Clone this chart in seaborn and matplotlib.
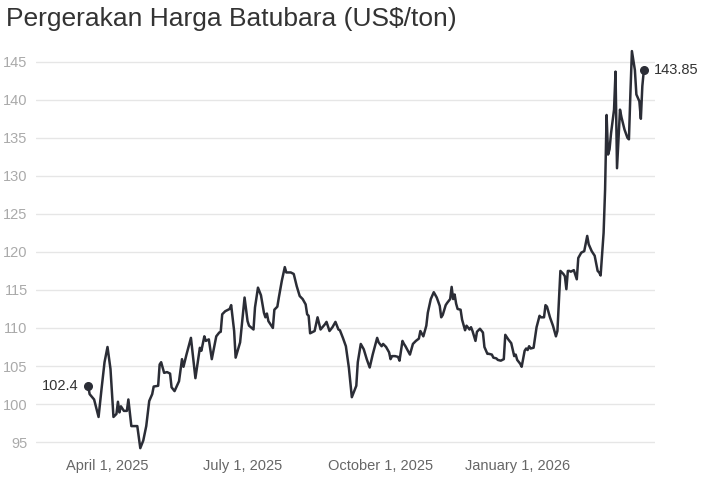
import pandas as pd
import numpy as np
import matplotlib
matplotlib.use("Agg")
import matplotlib.pyplot as plt
import seaborn as sns

# coal price readings (US$/ton)
dates = [
    "2025-03-19", "2025-03-20", "2025-03-23", "2025-03-26", "2025-03-28", "2025-03-30",
    "2025-04-01", "2025-04-03", "2025-04-05", "2025-04-07", "2025-04-08", "2025-04-09",
    "2025-04-10", "2025-04-12", "2025-04-14", "2025-04-15", "2025-04-17", "2025-04-19",
    "2025-04-21", "2025-04-23", "2025-04-25", "2025-04-27", "2025-04-29", "2025-05-01",
    "2025-05-02", "2025-05-05", "2025-05-06", "2025-05-07", "2025-05-09", "2025-05-11",
    "2025-05-13", "2025-05-14", "2025-05-16", "2025-05-19", "2025-05-21", "2025-05-22",
    "2025-05-24", "2025-05-27", "2025-05-30", "2025-06-02", "2025-06-03", "2025-06-05",
    "2025-06-06", "2025-06-08", "2025-06-10", "2025-06-13", "2025-06-15", "2025-06-16",
    "2025-06-17", "2025-06-19", "2025-06-22", "2025-06-23", "2025-06-25", "2025-06-26",
    "2025-06-29", "2025-07-02", "2025-07-04", "2025-07-05", "2025-07-08", "2025-07-09",
    "2025-07-11", "2025-07-13", "2025-07-15", "2025-07-16", "2025-07-17", "2025-07-18",
    "2025-07-21", "2025-07-22", "2025-07-24", "2025-07-25", "2025-07-27", "2025-07-29",
    "2025-07-30", "2025-08-02", "2025-08-04", "2025-08-06", "2025-08-08", "2025-08-10",
    "2025-08-12", "2025-08-13", "2025-08-14", "2025-08-15", "2025-08-18", "2025-08-20",
    "2025-08-22", "2025-08-25", "2025-08-26", "2025-08-28", "2025-08-30", "2025-09-01",
    "2025-09-03", "2025-09-04", "2025-09-06", "2025-09-08", "2025-09-10", "2025-09-12",
    "2025-09-15", "2025-09-16", "2025-09-18", "2025-09-20", "2025-09-22", "2025-09-24",
    "2025-09-26", "2025-09-29", "2025-09-30", "2025-10-02", "2025-10-03", "2025-10-05",
    "2025-10-07", "2025-10-08", "2025-10-09", "2025-10-11", "2025-10-13", "2025-10-14",
    "2025-10-16", "2025-10-17", "2025-10-18", "2025-10-21", "2025-10-23", "2025-10-25",
    "2025-10-27", "2025-10-28", "2025-10-30", "2025-11-01", "2025-11-02", "2025-11-04",
    "2025-11-06", "2025-11-08", "2025-11-10", "2025-11-11", "2025-11-12", "2025-11-14",
    "2025-11-15", "2025-11-17", "2025-11-18", "2025-11-19", "2025-11-20", "2025-11-21",
    "2025-11-22", "2025-11-24", "2025-11-25", "2025-11-27", "2025-11-28", "2025-11-30",
    "2025-12-01", "2025-12-02", "2025-12-04", "2025-12-05", "2025-12-07", "2025-12-09",
    "2025-12-10", "2025-12-12", "2025-12-13", "2025-12-15", "2025-12-16", "2025-12-18",
    "2025-12-19", "2025-12-21", "2025-12-23", "2025-12-24", "2025-12-26", "2025-12-28",
    "2025-12-30", "2025-12-31", "2026-01-01", "2026-01-03", "2026-01-04", "2026-01-06",
    "2026-01-07", "2026-01-08", "2026-01-09", "2026-01-10", "2026-01-12", "2026-01-14",
    "2026-01-16", "2026-01-17", "2026-01-19", "2026-01-20", "2026-01-21", "2026-01-23",
    "2026-01-25", "2026-01-27", "2026-01-28", "2026-01-30", "2026-02-01", "2026-02-02",
    "2026-02-03", "2026-02-04", "2026-02-05", "2026-02-06", "2026-02-08", "2026-02-10",
    "2026-02-11", "2026-02-13", "2026-02-15", "2026-02-17", "2026-02-18", "2026-02-20",
    "2026-02-22", "2026-02-24", "2026-02-25", "2026-02-26", "2026-02-28", "2026-03-01",
    "2026-03-02", "2026-03-03", "2026-03-04", "2026-03-05", "2026-03-07", "2026-03-08",
    "2026-03-09", "2026-03-11", "2026-03-12", "2026-03-14", "2026-03-16", "2026-03-17",
    "2026-03-18", "2026-03-19", "2026-03-21", "2026-03-22", "2026-03-24", "2026-03-25",
    "2026-03-26", "2026-03-27",
]
prices = [
    102.4, 101.3, 100.6, 98.3, 102.0, 105.5,
    107.5, 104.6, 98.3, 98.7, 100.3, 98.9,
    99.7, 99.1, 99.1, 100.6, 97.1, 97.1,
    97.1, 94.2, 95.2, 97.1, 100.4, 101.3,
    102.3, 102.4, 105.2, 105.5, 104.1, 104.2,
    104.0, 102.2, 101.7, 103.0, 105.9, 104.9,
    106.5, 108.7, 103.4, 107.4, 107.0, 108.9,
    108.3, 108.5, 105.9, 108.9, 109.4, 109.5,
    111.8, 112.2, 112.5, 113.0, 109.6, 106.1,
    108.1, 114.0, 110.9, 110.3, 109.8, 112.7,
    115.3, 114.3, 112.0, 111.4, 111.9, 110.9,
    110.0, 112.4, 112.8, 114.0, 116.2, 118.0,
    117.3, 117.3, 117.1, 115.5, 114.2, 113.8,
    113.1, 111.8, 111.6, 109.3, 109.6, 111.4,
    109.8, 110.5, 110.8, 109.6, 110.1, 110.8,
    109.8, 109.7, 108.7, 107.6, 104.8, 100.9,
    102.4, 105.5, 107.9, 107.2, 105.9, 104.8,
    106.5, 108.7, 108.1, 107.6, 107.9, 107.5,
    106.8, 105.9, 106.3, 106.3, 106.2, 105.7,
    108.3, 107.9, 107.6, 106.5, 107.9, 108.3,
    108.6, 109.6, 108.9, 110.3, 112.0, 113.8,
    114.7, 114.0, 112.9, 111.4, 111.7, 113.0,
    113.3, 113.8, 115.4, 113.8, 114.4, 113.2,
    112.5, 112.4, 111.1, 109.7, 110.3, 109.8,
    110.1, 109.6, 108.3, 109.5, 109.9, 109.4,
    107.5, 106.6, 106.6, 106.5, 106.1, 106.0,
    105.8, 105.7, 105.9, 109.1, 108.5, 108.0,
    106.3, 106.5, 105.8, 105.3, 104.9, 107.0,
    107.3, 107.1, 107.6, 107.3, 107.4, 110.1,
    111.6, 111.4, 111.4, 113.0, 112.8, 111.4,
    110.3, 108.9, 109.6, 117.5, 117.1, 116.8,
    115.1, 117.5, 117.5, 117.4, 117.6, 116.4,
    119.2, 119.9, 120.1, 122.1, 121.0, 120.1,
    119.5, 117.5, 117.3, 116.9, 122.5, 128.2,
    138.0, 132.8, 133.5, 135.6, 138.7, 143.7,
    131.0, 138.7, 137.7, 136.1, 135.0, 134.8,
    140.9, 146.4, 143.9, 140.7, 139.8, 137.5,
    141.8, 143.85,
]

tick_dates = ["2025-04-01", "2025-07-01", "2025-10-01", "2026-01-01"]
tick_labels = ["April 1, 2025", "July 1, 2025", "October 1, 2025", "January 1, 2026"]
y_ticks = [95, 100, 105, 110, 115, 120, 125, 130, 135, 140, 145]

LINE = "#2b2d36"
TEXT = "#333333"

sns.set_theme(style="white")
plt.rcParams["font.family"] = ["Liberation Sans", "DejaVu Sans"]

df = pd.DataFrame({"date": pd.to_datetime(dates), "price": prices})

fig = plt.figure(figsize=(7.03, 4.84), dpi=100)
ax = fig.add_axes([36 / 703, 29 / 484, 619 / 703, 410 / 484])

sns.lineplot(data=df, x="date", y="price", ax=ax, color=LINE, linewidth=1.8)

# end point markers + labels
first, last = df.iloc[0], df.iloc[-1]
ax.plot([first["date"], last["date"]], [first["price"], last["price"]],
        "o", color=LINE, markersize=5.5, zorder=5)
ax.annotate(f"{first['price']:g}", (first["date"], first["price"]),
            xytext=(-7, 0), textcoords="offset points", ha="right", va="center",
            fontsize=10.5, color=TEXT)
ax.annotate(f"{last['price']:g}", (last["date"], last["price"]),
            xytext=(7, 0), textcoords="offset points", ha="left", va="center",
            fontsize=10.5, color=TEXT)

ax.set_xlim(pd.Timestamp("2025-02-12"), pd.Timestamp("2026-04-03 12:00"))
ax.set_ylim(93.3, 147.2)
ax.set_xticks(pd.to_datetime(tick_dates))
ax.set_xticklabels(tick_labels)
ax.set_yticks(y_ticks)
ax.set_yticklabels([str(v) for v in y_ticks])

ax.set_xlabel("")
ax.set_ylabel("")
for s in ax.spines.values():
    s.set_visible(False)
ax.yaxis.grid(True, color="#e6e6e6", linewidth=1)
ax.xaxis.grid(False)
ax.tick_params(axis="x", length=0, pad=3, labelsize=10.5, colors="#666666")
ax.tick_params(axis="y", length=0, pad=6, labelsize=10.5, colors="#aaaaaa")

fig.text(6 / 703, 1 - 19 / 484, "Pergerakan Harga Batubara (US$/ton)",
         ha="left", va="center", fontsize=19, color=TEXT)

plt.savefig("out.png", dpi=100)
plt.close()
